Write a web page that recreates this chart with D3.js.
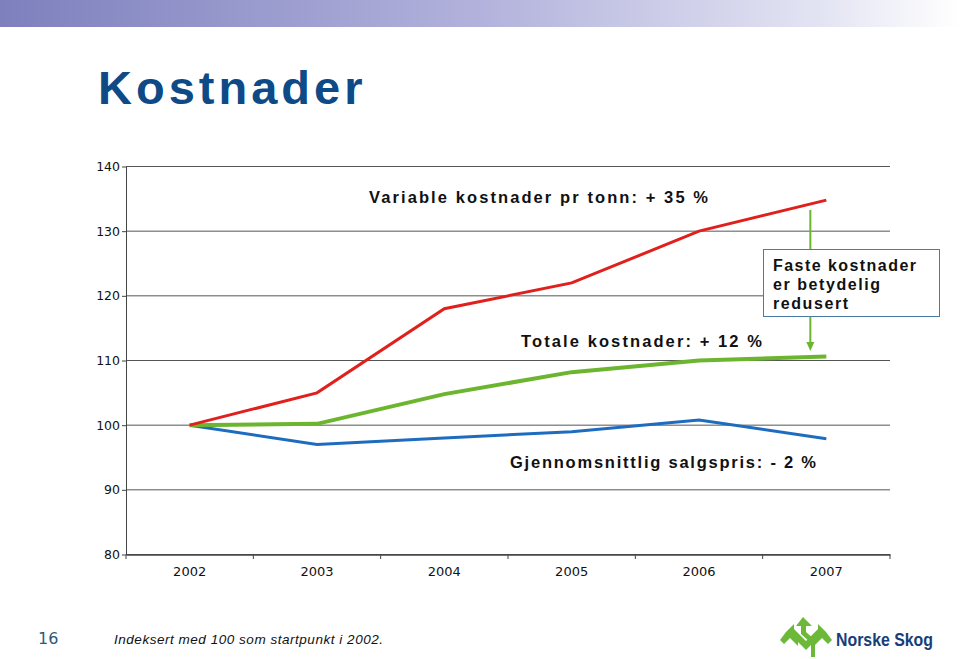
<!DOCTYPE html>
<html><head><meta charset="utf-8">
<script src="https://cdn.jsdelivr.net/npm/d3@7"></script>
<style>body{margin:0;background:#fff}svg{display:block}</style>
</head><body>
<svg id="c" width="960" height="659"></svg>
<script>
const years = ["2002","2003","2004","2005","2006","2007"];
const variableCosts = [100, 105, 118, 122, 130, 134.8];
const totalCosts = [100, 100.2, 104.8, 108.2, 110, 110.6];
const salesPrice = [100, 97, 98, 99, 100.8, 97.9];
const yTicks = [80, 90, 100, 110, 120, 130, 140];

const svg = d3.select("#c");
const defs = svg.append("defs");
const g = defs.append("linearGradient").attr("id","hdr");
g.append("stop").attr("offset","0").attr("stop-color","#7d80bd");
g.append("stop").attr("offset","0.5").attr("stop-color","#b2b2dc");
g.append("stop").attr("offset","0.85").attr("stop-color","#e2e3f2");
g.append("stop").attr("offset","1").attr("stop-color","#ffffff");
svg.append("rect").attr("x",0).attr("y",0).attr("width",960).attr("height",27).attr("fill","url(#hdr)");

svg.append("text").attr("x",98).attr("y",104).text("Kostnader")
  .attr("font-family","Liberation Sans, Arial").attr("font-weight","bold")
  .attr("font-size",47).attr("letter-spacing",4).attr("fill","#0d4a86");

const x = d3.scaleBand().domain(years).range([126, 890]);
const y = d3.scaleLinear().domain([80, 140]).range([554.5, 166.5]);

// gridlines
svg.append("g").selectAll("line").data(yTicks).join("line")
  .attr("x1",126).attr("x2",890).attr("y1",d=>y(d)).attr("y2",d=>y(d))
  .attr("stroke","#555").attr("stroke-width",1);

const yAxis = svg.append("g").attr("transform","translate(126,0)")
  .call(d3.axisLeft(y).tickValues(yTicks).tickSize(4).tickSizeOuter(0));
yAxis.select(".domain").attr("stroke","#444");
yAxis.selectAll("line").attr("stroke","#444");
yAxis.selectAll("text").attr("font-family","DejaVu Sans, Verdana").attr("font-size",12.5).attr("fill","#111").attr("x",-6);

const xAxis = svg.append("g").attr("transform","translate(0,554.5)")
  .call(d3.axisBottom(x).tickSize(0).tickSizeOuter(0));
xAxis.select(".domain").attr("stroke","#444").attr("stroke-width",1.5);
xAxis.selectAll("text").attr("font-family","DejaVu Sans, Verdana").attr("font-size",13).attr("fill","#111").attr("dy","1.45em");
// category boundary ticks
svg.append("g").selectAll("line").data(years.concat(["end"])).join("line")
  .attr("x1",(d,i)=>126 + i*x.step()).attr("x2",(d,i)=>126 + i*x.step())
  .attr("y1",554.5).attr("y2",559).attr("stroke","#444");

const line = d3.line().x((d,i)=>x(years[i])+x.bandwidth()/2).y(d=>y(d));
svg.append("path").datum(salesPrice).attr("d",line).attr("fill","none").attr("stroke","#1e6cc0").attr("stroke-width",3);
svg.append("path").datum(totalCosts).attr("d",line).attr("fill","none").attr("stroke","#6cb52f").attr("stroke-width",4);
svg.append("path").datum(variableCosts).attr("d",line).attr("fill","none").attr("stroke","#e0201c").attr("stroke-width",3);

const lab = (t, xx, yy, w) => svg.append("text").attr("x",xx).attr("y",yy).text(t)
  .attr("font-family","Liberation Sans, Arial").attr("font-weight","bold").attr("font-size",16.5)
  .attr("textLength",w).attr("lengthAdjust","spacing").attr("fill","#111");
lab("Variable kostnader pr tonn: + 35 %", 369, 203, 339);
lab("Totale kostnader: + 12 %", 521, 347, 241);
lab("Gjennomsnittlig salgspris: - 2 %", 510, 468, 306);

// arrow
const ax = x("2007")+x.bandwidth()/2 - 16;
svg.append("line").attr("x1",ax).attr("x2",ax).attr("y1",210).attr("y2",343).attr("stroke","#6cb52f").attr("stroke-width",2);
svg.append("path").attr("d",`M${ax-4},342 L${ax+4},342 L${ax},351 Z`).attr("fill","#6cb52f");

svg.append("rect").attr("x",763.5).attr("y",249.5).attr("width",176).attr("height",67)
  .attr("fill","#fff").attr("stroke","#4a7ca6").attr("stroke-width",1);
[["Faste kostnader",143],["er betydelig",107],["redusert",75]].forEach((t,i)=>{
  svg.append("text").attr("x",773).attr("y",271+i*19).text(t[0])
    .attr("font-family","Liberation Sans, Arial").attr("font-weight","bold").attr("font-size",16)
    .attr("textLength",t[1]).attr("lengthAdjust","spacing").attr("fill","#111");
});

// footer
svg.append("text").attr("x",38).attr("y",644).text("16").attr("font-family","DejaVu Sans, Verdana")
  .attr("font-size",16).attr("fill","#2b5b7c");
svg.append("text").attr("x",114).attr("y",644).text("Indeksert med 100 som startpunkt i 2002.")
  .attr("font-family","Liberation Sans, Arial").attr("font-style","italic").attr("font-size",13.5)
  .attr("textLength",269).attr("lengthAdjust","spacing").attr("fill","#111");

// logo
const lg = svg.append("g").attr("fill","#6cb93a");
lg.append("path").attr("d","M803,617 L812,626 L806,626 L806,632 L815,640 L815,657 L811,657 L811,643 L801,634 L801,626 L796,626 Z");
lg.append("path").attr("d","M786,632 L794,624 L794,629 L806,641 L806,650 L798,642 L798,646 L790,638 L784,644 L780,640 Z");
lg.append("path").attr("d","M826,632 L818,624 L818,629 L806,641 L806,650 L814,642 L814,646 L822,638 L828,644 L832,640 Z");
svg.append("text").attr("x",836).attr("y",646).text("Norske Skog")
  .attr("font-family","Liberation Sans, Arial").attr("font-weight","bold").attr("font-size",18)
  .attr("textLength",97).attr("lengthAdjust","spacingAndGlyphs").attr("fill","#163f7a");
</script>
</body></html>
